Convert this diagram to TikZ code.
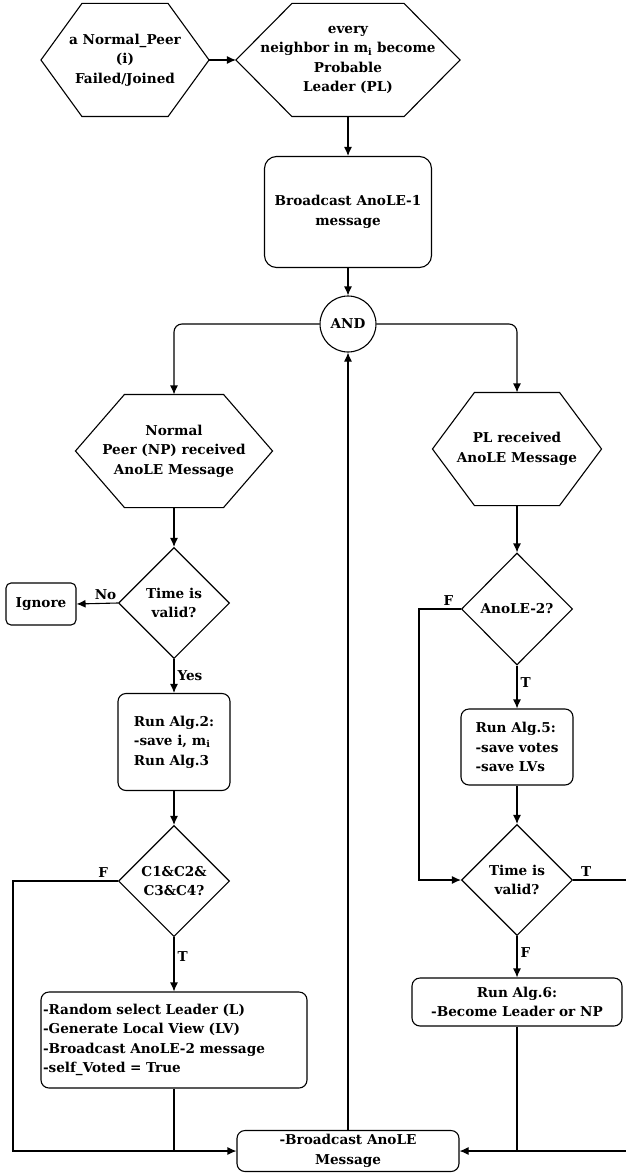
\documentclass[tikz,border=0pt]{standalone}
\usepackage{fontspec}
\setmainfont{DejaVu Serif}
\usetikzlibrary{shapes.geometric,arrows.meta}

\begin{document}
\begin{tikzpicture}
  [x=1pt,y=-1pt,line width=1.1pt,
   every node/.style={font=\bfseries\fontsize{13.6}{19.5}\selectfont,inner sep=2pt},
   hexnode/.style={draw=none,align=center,minimum height=112pt},
   decision/.style={draw,diamond,align=center,inner sep=0pt,minimum width=111pt,minimum height=111pt},
   procbox/.style={draw,rectangle,rounded corners=8pt,align=center},
   joint/.style={draw,circle,minimum size=56pt,inner sep=0pt},
   lbl/.style={inner sep=3pt},
   arr/.style={-{Latex[length=9pt,width=8pt]}}]
  \useasboundingbox (0,0) rectangle (625,1174);

  \node[hexnode,minimum width=167pt] (fail) at (125,60) {a Normal\_Peer\\(i)\\Failed/Joined};
  \node[hexnode,minimum width=223pt] (plead) at (348,60) {every\\neighbor in m\textsubscript{i} become\\Probable\\Leader (PL)};
  \node[procbox,rounded corners=12pt,minimum width=167pt,minimum height=111pt] (bcast1) at (348,212) {Broadcast AnoLE-1\\message};
  \node[joint] (andj) at (348,324) {AND};

  \node[hexnode,minimum width=196pt] (nprecv) at (174,451) {Normal\\Peer (NP) received\\AnoLE Message};
  \node[decision] (tvnp) at (174,603) {Time is\\valid?};
  \node[procbox,rounded corners=5pt,minimum width=70pt,minimum height=42pt] (ignore) at (41,604) {Ignore};
  \node[procbox,align=left,minimum width=112pt,minimum height=97pt] (run2) at (174,742) {Run Alg.2:\\-save i, m\textsubscript{i}\\Run Alg.3};
  \node[decision] (cond) at (174,881) {C1\&C2\&\\C3\&C4?};
  \node[procbox,align=left,text width=262pt,minimum height=96pt] (rand) at (174,1040) {-Random select Leader (L)\\-Generate Local View (LV)\\-Broadcast AnoLE-2 message\\-self\_Voted = True};

  \node[hexnode,minimum width=168pt] (plrecv) at (517,449) {PL received\\AnoLE Message};
  \node[decision,minimum height=112pt] (anole2) at (517,609) {AnoLE-2?};
  \node[procbox,align=left,minimum width=112pt,minimum height=76pt] (run5) at (517,747) {Run Alg.5:\\-save votes\\-save LVs};
  \node[decision] (tvpl) at (517,880) {Time is\\valid?};
  \node[procbox,minimum width=210pt,minimum height=48pt] (run6) at (517,1002) {Run Alg.6:\\-Become Leader or NP};

  \node[procbox,inner sep=1pt,minimum width=222pt,minimum height=41pt] (bcast2) at (348,1151) {-Broadcast AnoLE\\Message};

  \coordinate (lcorner) at (13,1151);
  \coordinate (fbend) at (419,880);
  \coordinate (rcorner) at (628,1151);

  % hexagon outlines
  \foreach \n/\d in {fail/41,plead/56,nprecv/49,plrecv/42}
    \draw (\n.west) -- ([xshift=\d pt]\n.north west) -- ([xshift=-\d pt]\n.north east)
      -- (\n.east) -- ([xshift=-\d pt]\n.south east) -- ([xshift=\d pt]\n.south west) -- cycle;

  \foreach \from/\to in {fail/plead,plead/bcast1,bcast1/andj,nprecv/tvnp,run2/cond,plrecv/anole2,run5/tvpl,bcast2/andj}
    \draw[arr] (\from) -- (\to);

  \draw[arr,rounded corners=8pt] (andj.west) -| (nprecv.north);
  \draw[arr,rounded corners=8pt] (andj.east) -| (plrecv.north);

  \draw[arr] (tvnp.west) -- node[lbl,above,pos=0.3] {No} (ignore.east);
  \draw[arr] (tvnp.south) -- node[lbl,right] {Yes} (run2.north);
  \draw[arr] (cond.south) -- node[lbl,right,pos=0.35] {T} (rand.north);
  \draw[arr] (cond.west) -| node[lbl,above,pos=0.07] {F} (lcorner) -- (bcast2.west);
  \draw (rand.south) -- (rand.south |- bcast2.west);

  \draw[arr] (anole2.south) -- node[lbl,right,pos=0.4] {T} (run5.north);
  \draw[arr] (anole2.west) -| node[lbl,above,pos=0.15] {F} (fbend) -- (tvpl.west);
  \draw[arr] (tvpl.south) -- node[lbl,right,pos=0.4] {F} (run6.north);
  \draw[arr] (tvpl.east) -| node[lbl,above,pos=0.12] {T} (rcorner) -- (bcast2.east);
  \draw (run6.south) -- (run6.south |- bcast2.east);
\end{tikzpicture}
\end{document}
